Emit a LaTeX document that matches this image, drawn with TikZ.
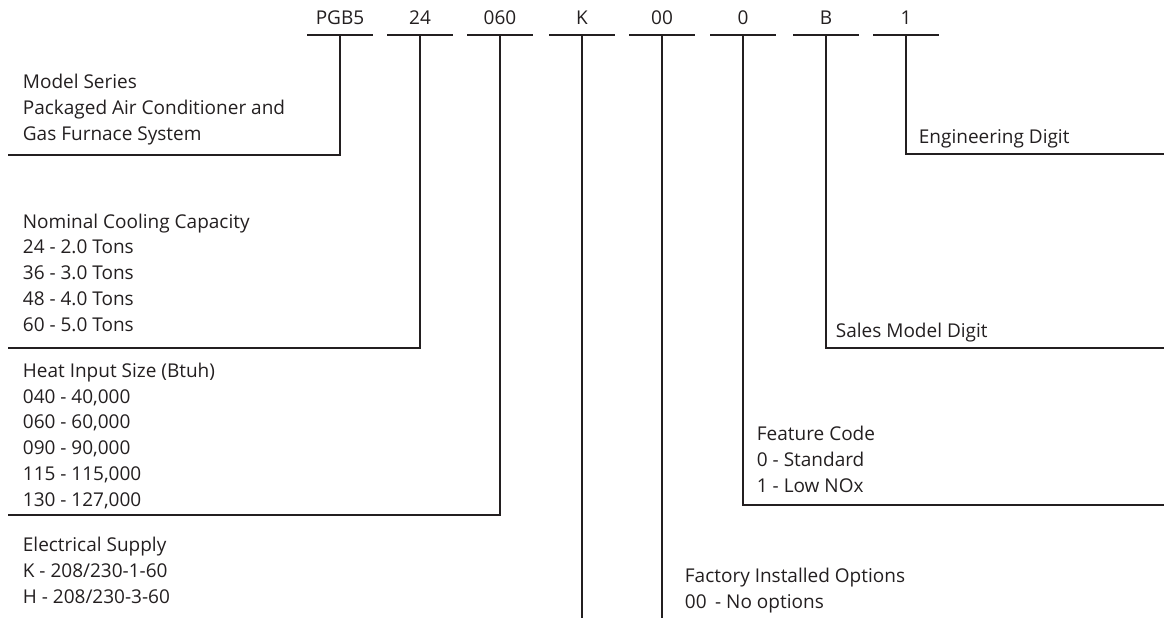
\documentclass[tikz,border=0pt]{standalone}
\usepackage{fontspec}
\setmainfont{Open Sans}
\definecolor{ink}{HTML}{231F20}

\begin{document}
\begin{tikzpicture}[x=1pt,y=-1pt,ink,line width=1.8pt,
    digit/.style={anchor=base,minimum width=64pt,inner xsep=0pt,inner ysep=9pt,
        font=\fontsize{19}{22}\selectfont},
    info/.style={anchor=base west,align=left,inner sep=0pt,
        font=\fontsize{19}{25.7}\selectfont}]
    \useasboundingbox (0,0) rectangle (1164,618);
    % model number digits
    \node[digit] (pgb) at (340,25) {PGB5};
    \node[digit] (cap) at (420,25) {24};
    \node[digit] (heat) at (500,25) {060};
    \node[digit] (elec) at (582,25) {K};
    \node[digit] (opt) at (662,25) {00};
    \node[digit] (feat) at (743,25) {0};
    \node[digit] (sales) at (826,25) {B};
    \node[digit] (eng) at (906,25) {1};
    \foreach \n in {pgb,cap,heat,elec,opt,feat,sales,eng}
        \draw (\n.south west) -- (\n.south east);
    % descriptions (placed at the baseline of their last line)
    \node[info] (series) at (22,140) {Model Series\\Packaged Air Conditioner and\\Gas Furnace System};
    \node[info] (capinfo) at (22,331) {Nominal Cooling Capacity\\24 - 2.0 Tons\\36 - 3.0 Tons\\48 - 4.0 Tons\\60 - 5.0 Tons};
    \node[info] (heatinfo) at (22,506) {Heat Input Size (Btuh)\\040 - 40,000\\060 - 60,000\\090 - 90,000\\115 - 115,000\\130 - 127,000};
    \node[info] (elecinfo) at (22,603) {Electrical Supply\\K - 208/230-1-60\\H - 208/230-3-60};
    \node[info] (optinfo) at (684,608) {Factory Installed Options\\00\hspace{0.45em}- No options};
    \node[info] (featinfo) at (756,492) {Feature Code\\0 - Standard\\1 - Low NOx};
    \node[info] (salesinfo) at (835,337) {Sales Model Digit};
    \node[info] (enginfo) at (918,143) {Engineering Digit};
    % line ends
    \coordinate (pgb-end) at (8,155);
    \coordinate (cap-end) at (8,348);
    \coordinate (heat-end) at (8,515);
    \coordinate (elec-end) at (582,618);
    \coordinate (opt-end) at (662,618);
    \coordinate (feat-end) at (1164,505);
    \coordinate (sales-end) at (1164,348);
    \coordinate (eng-end) at (1164,154);
    \draw (pgb.south) |- (pgb-end);
    \draw (cap.south) |- (cap-end);
    \draw (heat.south) |- (heat-end);
    \draw (elec.south) -- (elec-end);
    \draw (opt.south) -- (opt-end);
    \draw (feat.south) |- (feat-end);
    \draw (sales.south) |- (sales-end);
    \draw (eng.south) |- (eng-end);
\end{tikzpicture}
\end{document}
